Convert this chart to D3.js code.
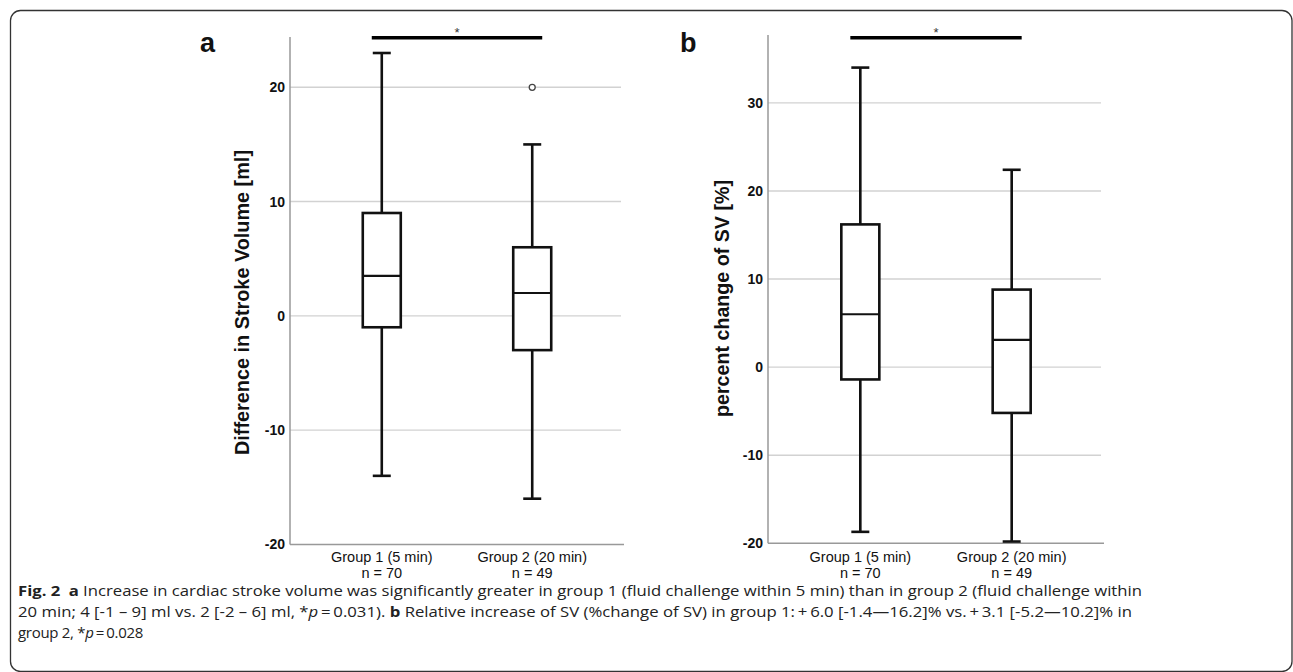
<!DOCTYPE html>
<html><head><meta charset="utf-8">
<script src="https://cdn.jsdelivr.net/npm/d3@7"></script>
<style>body{margin:0;background:#fff}svg{display:block}</style>
</head><body>
<script>
// ---------- data ----------
const groups = ["Group 1 (5 min)", "Group 2 (20 min)"];
const groupN = ["n = 70", "n = 49"];

// panel a: Difference in Stroke Volume [ml]
const aWhiskerLow  = [-14, -16];
const aQ1          = [-1, -3];
const aMedian      = [3.5, 2];
const aQ3          = [9, 6];
const aWhiskerHigh = [23, 15];
const aOutliers    = [{group: "Group 2 (20 min)", value: 20}];
const aTicks       = [-20, -10, 0, 10, 20];

// panel b: percent change of SV [%]
const bWhiskerLow  = [-18.7, -19.8];
const bQ1          = [-1.4, -5.2];
const bMedian      = [6.0, 3.1];
const bQ3          = [16.2, 8.8];
const bWhiskerHigh = [34, 22.4];
const bOutliers    = [];
const bTicks       = [-20, -10, 0, 10, 20, 30];

// ---------- drawing ----------
const W = 1293, H = 672;
const svg = d3.select("body").append("svg").attr("width", W).attr("height", H);

// outer frame
svg.append("rect").attr("x", 10.5).attr("y", 10.5).attr("width", 1281.5).attr("height", 661)
  .attr("rx", 10).attr("fill", "none").attr("stroke", "#333").attr("stroke-width", 1.3);

function drawPanel(p) {
  const g = svg.append("g");
  const y = d3.scaleLinear().domain(p.domain).range([p.bottom, p.top]);
  const x = d3.scalePoint().domain(groups).range([p.left, p.right]).padding(0.61);

  // gridlines
  g.selectAll(".grid").data(p.ticks.filter(t => t !== p.domain[0])).join("line")
    .attr("x1", p.left).attr("x2", p.right - 3)
    .attr("y1", d => y(d)).attr("y2", d => y(d))
    .attr("stroke", "#d2d2d2").attr("stroke-width", 1.4);

  // y axis labels
  const ax = g.append("g").attr("transform", `translate(${p.left},0)`)
    .call(d3.axisLeft(y).tickValues(p.ticks).tickSize(0).tickPadding(5).tickFormat(d => String(d)));
  ax.select(".domain").remove();
  ax.selectAll("text").attr("font-family", "Liberation Sans, Arial, sans-serif")
    .attr("font-size", 14).attr("font-weight", "bold").attr("fill", "#111");

  // axis lines
  g.append("line").attr("x1", p.left).attr("x2", p.left).attr("y1", p.top).attr("y2", p.bottom)
    .attr("stroke", "#999").attr("stroke-width", 1.5);
  g.append("line").attr("x1", p.left).attr("x2", p.right).attr("y1", p.bottom).attr("y2", p.bottom)
    .attr("stroke", "#999").attr("stroke-width", 1.5);

  const boxes = groups.map((grp, i) => ({
    grp, lo: p.lo[i], q1: p.q1[i], med: p.med[i], q3: p.q3[i], hi: p.hi[i]
  }));
  const bw = 38, cw = 18;
  const bx = g.selectAll(".box").data(boxes).join("g");
  const ln = (sel) => sel.attr("stroke", "#111").attr("stroke-width", 2.6).attr("fill", "none");
  bx.append("line").attr("x1", d => x(d.grp)).attr("x2", d => x(d.grp))
    .attr("y1", d => y(d.q3)).attr("y2", d => y(d.hi)).call(ln);
  bx.append("line").attr("x1", d => x(d.grp)).attr("x2", d => x(d.grp))
    .attr("y1", d => y(d.q1)).attr("y2", d => y(d.lo)).call(ln);
  bx.append("line").attr("x1", d => x(d.grp) - cw / 2).attr("x2", d => x(d.grp) + cw / 2)
    .attr("y1", d => y(d.hi)).attr("y2", d => y(d.hi)).call(ln);
  bx.append("line").attr("x1", d => x(d.grp) - cw / 2).attr("x2", d => x(d.grp) + cw / 2)
    .attr("y1", d => y(d.lo)).attr("y2", d => y(d.lo)).call(ln);
  bx.append("rect").attr("x", d => x(d.grp) - bw / 2).attr("width", bw)
    .attr("y", d => y(d.q3)).attr("height", d => y(d.q1) - y(d.q3)).call(ln).attr("fill", "#fff");
  bx.append("line").attr("x1", d => x(d.grp) - bw / 2).attr("x2", d => x(d.grp) + bw / 2)
    .attr("y1", d => y(d.med)).attr("y2", d => y(d.med)).call(ln).attr("stroke-width", 2.2);

  // outliers
  g.selectAll(".out").data(p.outliers).join("circle")
    .attr("cx", d => x(d.group)).attr("cy", d => y(d.value)).attr("r", 3)
    .attr("fill", "#fff").attr("stroke", "#444").attr("stroke-width", 1.3);

  // category labels
  groups.forEach((grp, i) => {
    const t = g.append("text").attr("x", x(grp)).attr("text-anchor", "middle")
      .attr("font-family", "Liberation Sans, Arial, sans-serif").attr("font-size", 14.5).attr("fill", "#111");
    t.append("tspan").attr("x", x(grp)).attr("y", 561.5).text(grp);
    t.append("tspan").attr("x", x(grp)).attr("y", 577.5).text(groupN[i]);
  });

  // significance bar
  const x1 = x(groups[0]) - 10, x2 = x(groups[1]) + 10;
  g.append("line").attr("x1", x1).attr("x2", x2).attr("y1", 37.7).attr("y2", 37.7)
    .attr("stroke", "#000").attr("stroke-width", 3.4);
  g.append("text").attr("x", (x1 + x2) / 2).attr("y", 36.5).attr("text-anchor", "middle")
    .attr("font-family", "Liberation Sans, Arial, sans-serif").attr("font-size", 13).attr("fill", "#333").text("*");

  // y title
  g.append("text").attr("transform", `translate(${p.titleX},${p.titleY}) rotate(-90)`)
    .attr("text-anchor", "middle").attr("dominant-baseline", "central")
    .attr("font-family", "Liberation Sans, Arial, sans-serif").attr("font-size", 20).attr("font-weight", "bold")
    .attr("fill", "#111").attr("textLength", p.titleLen).attr("lengthAdjust", "spacingAndGlyphs")
    .text(p.title);

  // panel letter
  g.append("text").attr("x", p.letterX).attr("y", 52)
    .attr("font-family", "Liberation Sans, Arial, sans-serif").attr("font-size", 27).attr("font-weight", "bold")
    .attr("fill", "#111").text(p.letter);
}

drawPanel({
  left: 290, right: 624, top: 37, bottom: 544.4, domain: [-20, 24.4], ticks: aTicks,
  lo: aWhiskerLow, q1: aQ1, med: aMedian, q3: aQ3, hi: aWhiskerHigh, outliers: aOutliers,
  title: "Difference in Stroke Volume [ml]", titleX: 242, titleY: 302.5, titleLen: 305,
  letter: "a", letterX: 200
});
drawPanel({
  left: 768, right: 1104, top: 35, bottom: 543.3, domain: [-20, 37.7], ticks: bTicks,
  lo: bWhiskerLow, q1: bQ1, med: bMedian, q3: bQ3, hi: bWhiskerHigh, outliers: bOutliers,
  title: "percent change of SV [%]", titleX: 722, titleY: 298.5, titleLen: 237,
  letter: "b", letterX: 680
});

// caption
const capFont = "'Open Sans', sans-serif";
const capLines = [
  {y: 596, len: 1124, parts: [
    {t: "Fig. 2", b: true}, {t: "\u2002"}, {t: "a", b: true},
    {t: " Increase in cardiac stroke volume was significantly greater in group 1 (fluid challenge within 5 min) than in group 2 (fluid challenge within"}]},
  {y: 616.5, len: 1114, parts: [
    {t: "20 min; 4 [-1 \u2013 9] ml vs. 2 [-2 \u2013 6] ml, *"}, {t: "p", i: true},
    {t: "\u2009=\u20090.031). "}, {t: "b", b: true},
    {t: " Relative increase of SV (%change of SV) in group 1:\u2009+\u20096.0 [-1.4\u201416.2]% vs.\u2009+\u20093.1 [-5.2\u201410.2]% in"}]},
  {y: 637.5, len: null, parts: [{t: "group 2, *"}, {t: "p", i: true}, {t: "\u2009=\u20090.028"}]}
];
capLines.forEach(l => {
  const t = svg.append("text").attr("x", 18).attr("y", l.y)
    .attr("font-family", capFont).attr("font-size", 15).attr("fill", "#222");
  if (l.len) t.attr("textLength", l.len).attr("lengthAdjust", "spacingAndGlyphs");
  else t.attr("letter-spacing", -0.3);
  l.parts.forEach(pt => {
    const s = t.append("tspan").text(pt.t);
    if (pt.b) s.attr("font-weight", "bold");
    if (pt.i) s.attr("font-style", "italic");
  });
});
</script>
</body></html>
